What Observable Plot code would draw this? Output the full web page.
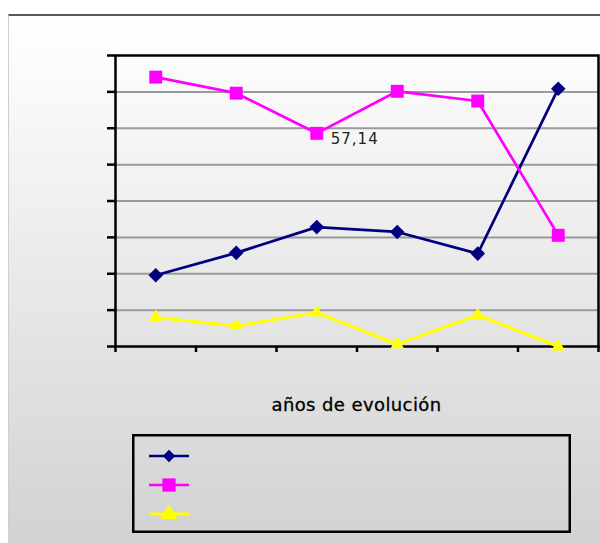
<!DOCTYPE html>
<html>
<head>
<meta charset="utf-8">
<script src="https://cdn.jsdelivr.net/npm/d3@7"></script>
<script src="https://cdn.jsdelivr.net/npm/@observablehq/plot@0.6"></script>
<style>
  html, body { margin: 0; padding: 0; background: #ffffff; width: 600px; height: 543px; overflow: hidden; }
  #frame {
    position: absolute; left: 8px; top: 14px; width: 592px; height: 529px;
    border-top: 2px solid #5a5a5a; border-left: 1px solid #cfcfcf; box-sizing: border-box;
    background: linear-gradient(to bottom, #ffffff 0%, #fcfcfc 8%, #d2d2d2 100%);
  }
  #chart { position: absolute; left: 0; top: 0; }
  #xtitle {
    position: absolute; left: 115px; width: 483px; top: 394px; text-align: center;
    font-family: "DejaVu Sans", sans-serif; font-size: 18px; color: #000; letter-spacing: 0.4px;
    -webkit-text-stroke: 0.3px #000;
  }
  #legend { position: absolute; left: 132px; top: 434px; }
</style>
</head>
<body>
<div id="frame"></div>
<div id="chart"></div>
<div id="xtitle">años de evolución</div>
<div id="legend"></div>
<script>
// ---- data ----
const categories = ["1", "2", "3", "4", "5", "6"];
const seriesNames = ["Serie 1", "Serie 2", "Serie 3"];
const serie1 = [19.1, 25.1, 32.0, 30.7, 24.9, 69.1];
const serie2 = [72.2, 67.9, 57.14, 68.4, 65.8, 29.8];
const serie3 = [7.8, 5.5, 9.1, 0.6, 8.4, 0];
const seriesColors = ["#000080", "#ff00ff", "#ffff00"];
const seriesSymbols = ["diamond2", "square", "triangle"];
const labelledPoint = { series: "Serie 2", category: "3", text: "57,14" };
const yMax = 78;
const yDivisions = 8;

const allValues = [serie1, serie2, serie3];
const data = [];
seriesNames.forEach((s, si) => {
  categories.forEach((c, ci) => {
    data.push({ series: s, category: c, idx: ci, value: allValues[si][ci] });
  });
});
const yTicks = d3.range(yDivisions + 1).map(i => i * yMax / yDivisions);
const xBounds = d3.range(categories.length + 1);
const xPos = d => d.idx + 0.5;

const widths = [2.7, 2.7, 3];
const radii = [6.6, 7.3, 5.0];

const marks = [
  Plot.ruleY(yTicks.slice(1, -1), { stroke: "#9a9a9a", strokeWidth: 2 }),
  Plot.frame({ stroke: "#000", strokeWidth: 2.5 }),
  Plot.axisY(yTicks, { tickSize: 8, tickFormat: () => "", stroke: "#000", strokeWidth: 2.5, label: null }),
  Plot.axisX(xBounds, { tickSize: 6, tickFormat: () => "", stroke: "#000", strokeWidth: 2.5, label: null })
];
seriesNames.forEach((s, si) => {
  const sd = data.filter(d => d.series === s);
  marks.push(Plot.line(sd, { x: xPos, y: "value", stroke: seriesColors[si], strokeWidth: widths[si] }));
  marks.push(Plot.dot(sd, { x: xPos, y: "value", symbol: seriesSymbols[si], r: radii[si], fill: seriesColors[si], stroke: "none" }));
});
const lab = data.filter(d => d.series === labelledPoint.series && d.category === labelledPoint.category);
marks.push(Plot.text(lab, {
  x: xPos, y: "value", text: () => labelledPoint.text, textAnchor: "start", dx: 14, dy: 6,
  fontSize: 15, fill: "#222", fontFamily: "DejaVu Sans"
}));

const chart = Plot.plot({
  width: 600,
  height: 380,
  marginLeft: 115,
  marginRight: 2,
  marginTop: 55,
  marginBottom: 34,
  style: { background: "none", fontFamily: "DejaVu Sans", overflow: "visible" },
  x: { type: "linear", domain: [0, categories.length], axis: null },
  y: { domain: [0, yMax], axis: null },
  marks
});
document.getElementById("chart").appendChild(chart);
chart.querySelectorAll("text").forEach(t => { if (t.textContent === labelledPoint.text) t.setAttribute("letter-spacing", "1"); });

// ---- legend ----
const lw = 439, lh = 99;
const lsvg = d3.create("svg").attr("width", lw).attr("height", lh);
lsvg.append("rect").attr("x", 1.25).attr("y", 1.25).attr("width", lw - 2.5).attr("height", lh - 2.5)
  .attr("fill", "none").attr("stroke", "#000").attr("stroke-width", 2.5);
const legSym = [d3.symbolDiamond2, d3.symbolSquare, d3.symbolTriangle];
const legSize = [100, 175, 125];
seriesNames.forEach((s, i) => {
  const y = 22 + i * 29;
  const g = lsvg.append("g");
  g.append("line").attr("x1", 17).attr("x2", 57).attr("y1", y).attr("y2", y)
    .attr("stroke", seriesColors[i]).attr("stroke-width", widths[i]);
  g.append("path").attr("d", d3.symbol(legSym[i], legSize[i])())
    .attr("transform", `translate(37,${y})`).attr("fill", seriesColors[i]);
});
document.getElementById("legend").appendChild(lsvg.node());
</script>
</body>
</html>
